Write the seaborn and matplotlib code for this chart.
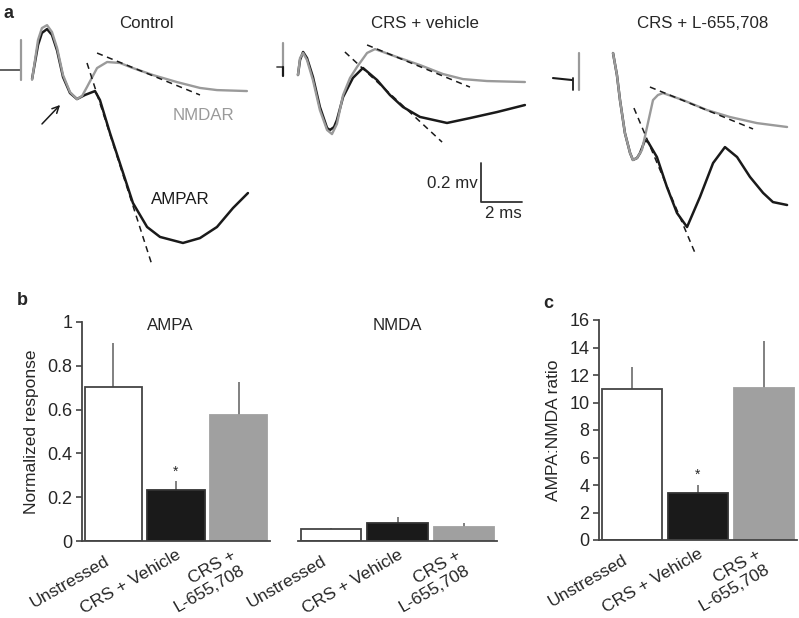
import numpy as np
import pandas as pd
import seaborn as sns
import matplotlib.pyplot as plt
import matplotlib.transforms as mtransforms

sns.set_theme(style='white')
plt.rcParams['font.family'] = ['Liberation Sans', 'DejaVu Sans']

W, H = 799, 618
PX_MS = 20.5   # pixels per ms in panel a
PX_MV = 195.0  # pixels per mV in panel a

BLACK = '#1a1a1a'
GRAY = '#9a9a9a'

# ---- panel a: field potential traces (time in ms from stimulus, voltage in mV) ----
ctrl_t_ampa = [0.54, 0.83, 1.02, 1.27, 1.51, 1.76, 2.05, 2.39, 2.73, 3.12, 3.61, 3.85, 4.34,
               4.98, 5.46, 6.15, 6.78, 7.90, 8.73, 9.56, 10.34, 11.07]
ctrl_v_ampa = [-0.046, 0.128, 0.19, 0.21, 0.18, 0.10, -0.036, -0.118, -0.149, -0.128, -0.108,
               -0.154, -0.323, -0.528, -0.682, -0.805, -0.856, -0.887, -0.862, -0.805, -0.708, -0.631]
ctrl_t_nmda = [0.54, 0.83, 1.02, 1.27, 1.51, 1.76, 2.05, 2.39, 2.73, 2.98, 3.22, 3.71, 4.20,
               4.83, 5.46, 6.44, 7.61, 8.73, 9.56, 11.02]
ctrl_v_nmda = [-0.05, 0.154, 0.215, 0.23, 0.195, 0.113, -0.026, -0.113, -0.149, -0.133, -0.087,
               0.010, 0.041, 0.036, 0.010, -0.026, -0.062, -0.092, -0.103, -0.108]

veh_t_ampa = [0.73, 0.83, 0.98, 1.17, 1.46, 1.80, 2.15, 2.29, 2.49, 2.63, 2.93, 3.41, 3.90,
              4.59, 5.22, 5.85, 6.68, 8.00, 9.12, 10.44, 11.80]
veh_v_ampa = [-0.041, 0.036, 0.077, 0.046, -0.051, -0.205, -0.313, -0.323, -0.308, -0.272,
              -0.154, -0.056, -0.005, -0.067, -0.144, -0.205, -0.256, -0.287, -0.262, -0.231, -0.195]
veh_t_nmda = [0.73, 0.83, 0.98, 1.17, 1.46, 1.80, 2.15, 2.39, 2.63, 2.93, 3.27, 3.61, 4.10,
              4.49, 5.56, 6.68, 7.80, 8.78, 9.95, 11.80]
veh_v_nmda = [-0.041, 0.046, 0.072, 0.036, -0.067, -0.221, -0.323, -0.344, -0.292, -0.144,
              -0.056, 0.0, 0.072, 0.092, 0.051, 0.010, -0.036, -0.062, -0.072, -0.077]

l655_t_ampa = [1.66, 1.85, 2.00, 2.24, 2.49, 2.63, 2.83, 2.98, 3.22, 3.37, 3.80, 4.29, 4.78,
               5.27, 5.90, 6.54, 7.12, 7.71, 8.34, 8.98, 9.46, 10.15]
l655_v_ampa = [0.138, 0.026, -0.103, -0.272, -0.374, -0.41, -0.40, -0.374, -0.308, -0.318,
               -0.395, -0.549, -0.682, -0.754, -0.60, -0.426, -0.344, -0.395, -0.497, -0.579,
               -0.626, -0.641]
l655_t_nmda = [1.66, 1.85, 2.00, 2.24, 2.49, 2.63, 2.83, 3.07, 3.32, 3.61, 3.85, 4.10, 5.07,
               6.24, 7.37, 8.68, 10.15]
l655_v_nmda = [0.138, 0.026, -0.103, -0.272, -0.374, -0.41, -0.40, -0.359, -0.241, -0.103,
               -0.077, -0.067, -0.103, -0.154, -0.190, -0.221, -0.241]

# fitted slopes (dashed): [t0, t1], [v0, v1]
ctrl_fit_nmda = ([3.71, 8.73], [0.087, -0.128])
ctrl_fit_ampa = ([3.22, 6.39], [0.036, -1.0])
veh_fit_nmda = ([4.10, 9.12], [0.113, -0.103])
veh_fit_ampa = ([3.02, 7.76], [0.077, -0.385])
l655_fit_nmda = ([3.46, 8.49], [-0.036, -0.251])
l655_fit_ampa = ([2.68, 5.66], [-0.144, -0.887])

# ---- panel b / c: bar data ----
groups = ['Unstressed', 'CRS + Vehicle', 'CRS +\nL-655,708']
ampa_mean = [0.702, 0.233, 0.574]
ampa_sem = [0.201, 0.041, 0.153]
nmda_mean = [0.053, 0.083, 0.062]
nmda_sem = [0.008, 0.028, 0.019]
ratio_mean = [10.96, 3.44, 11.08]
ratio_sem = [1.64, 0.56, 3.42]
bar_colors = ['white', BLACK, '#a0a0a0']
edge_colors = ['#444444', '#333333', '#a0a0a0']

fig = plt.figure(figsize=(W / 100, H / 100), dpi=100)


def px_axes(x0, y0, x1, y1):
    return fig.add_axes([x0 / W, 1 - y1 / H, (x1 - x0) / W, (y1 - y0) / H])


def trace_axes(x0, x1, stim_px, base_px):
    ax = px_axes(x0, 0, x1, 280)
    ax.set_xlim(-(stim_px - x0) / PX_MS, (x1 - stim_px) / PX_MS)
    ax.set_ylim(-(280 - base_px) / PX_MV, base_px / PX_MV)
    ax.axis('off')
    return ax


def draw_traces(ax, t_a, v_a, t_n, v_n, fit_a, fit_n):
    sns.lineplot(x=t_a, y=v_a, ax=ax, color=BLACK, lw=1.8, sort=False)
    sns.lineplot(x=t_n, y=v_n, ax=ax, color=GRAY, lw=1.7, sort=False)
    for ft, fv in (fit_a, fit_n):
        ax.plot(ft, fv, color=BLACK, lw=1.1, ls=(0, (4, 3)))


# Control
ax1 = trace_axes(0, 270, 21, 70)
ax1.plot([-1.02, -0.05], [0, 0], color='#555555', lw=1.3)
ax1.plot([0, 0], [0.154, -0.051], color=GRAY, lw=1.6)
draw_traces(ax1, ctrl_t_ampa, ctrl_v_ampa, ctrl_t_nmda, ctrl_v_nmda, ctrl_fit_ampa, ctrl_fit_nmda)
ax1.annotate('', xy=(2.0, -0.169), xytext=(0.93, -0.287),
             arrowprops=dict(arrowstyle='->', color=BLACK, lw=1.1))

# CRS + vehicle
ax2 = trace_axes(270, 530, 283, 67)
ax2.plot([-0.29, 0], [0, 0], color='#555555', lw=1.3)
ax2.plot([0, 0], [0.123, 0.0], color=GRAY, lw=1.6)
ax2.plot([0, 0], [0.0, -0.046], color=BLACK, lw=1.6)
draw_traces(ax2, veh_t_ampa, veh_v_ampa, veh_t_nmda, veh_v_nmda, veh_fit_ampa, veh_fit_nmda)
# scale bar: 0.2 mV, 2 ms
ax2.plot([9.66, 9.66, 11.66], [-0.492, -0.692, -0.692], color='#333333', lw=1.3)

# CRS + L-655,708
ax3 = trace_axes(530, 799, 579, 80)
ax3.plot([-1.27, -0.35], [0.01, 0.0], color=BLACK, lw=1.5)
ax3.plot([-0.29, -0.29], [0.01, -0.051], color=BLACK, lw=1.3)
ax3.plot([0, 0], [0.138, -0.051], color=GRAY, lw=1.6)
draw_traces(ax3, l655_t_ampa, l655_v_ampa, l655_t_nmda, l655_v_nmda, l655_fit_ampa, l655_fit_nmda)


def ftext(x, y, s, **kw):
    fig.text(x / W, 1 - y / H, s, **kw)


ftext(8, 13, 'a', fontsize=13, fontweight='bold', ha='center', va='center')
ftext(146, 24, 'Control', fontsize=12.2, ha='center', va='center')
ftext(425, 24, 'CRS + vehicle', fontsize=12.2, ha='center', va='center')
ftext(703, 24, 'CRS + L-655,708', fontsize=12.2, ha='center', va='center')
ftext(203, 115, 'NMDAR', fontsize=12.2, ha='center', va='center', color=GRAY)
ftext(180, 200, 'AMPAR', fontsize=12.2, ha='center', va='center', color=BLACK)
ftext(478, 184, '0.2 mv', fontsize=12.2, ha='right', va='center')
ftext(503, 213, '2 ms', fontsize=12.2, ha='center', va='center')

ftext(22, 301, 'b', fontsize=13, fontweight='bold', ha='center', va='center')
ftext(548, 303, 'c', fontsize=13, fontweight='bold', ha='center', va='center')

# rotated category labels sit centred below-left of each bar (offsets in px)
label_dx = [-44, -45, -34]
label_dy = [-41, -41, -40]


def bar_panel(ax, means, sems, ymax, show_y=True):
    df = pd.DataFrame({'group': groups, 'value': means})
    sns.barplot(data=df, x='group', y='value', hue='group', palette=bar_colors,
                width=0.91, ax=ax, legend=False, saturation=1)
    for patch, ec in zip(ax.patches, edge_colors):
        patch.set_edgecolor(ec)
        patch.set_linewidth(1.3)
    ax.errorbar(range(3), means, yerr=[np.zeros(3), sems], fmt='none',
                ecolor='#808080', elinewidth=1.4, capsize=0, zorder=0)
    ax.set_xlim(-0.5, 2.5)
    ax.set_ylim(0, ymax)
    ax.set_xlabel('')
    ax.set_ylabel('')
    ax.set_xticks(range(3))
    ax.set_xticklabels(groups, rotation=30, ha='center', va='center',
                       multialignment='right', rotation_mode='anchor', fontsize=12.6)
    ax.tick_params(axis='x', length=0, pad=0)
    for lbl, dx, dy in zip(ax.get_xticklabels(), label_dx, label_dy):
        lbl.set_transform(lbl.get_transform() +
                          mtransforms.ScaledTranslation(dx / 100, dy / 100,
                                                        fig.dpi_scale_trans))
    for s in ('top', 'right'):
        ax.spines[s].set_visible(False)
    ax.spines['bottom'].set_color('#444444')
    ax.spines['bottom'].set_linewidth(1.3)
    if show_y:
        ax.spines['left'].set_color('#444444')
        ax.spines['left'].set_linewidth(1.3)
        ax.tick_params(axis='y', direction='out', length=4, width=1.2,
                       color='#444444', labelsize=13, pad=3, left=True)
    else:
        ax.spines['left'].set_visible(False)
        ax.set_yticks([])


axb1 = px_axes(82, 322, 270, 541)
bar_panel(axb1, ampa_mean, ampa_sem, 1.0)
axb1.set_yticks([0, 0.2, 0.4, 0.6, 0.8, 1.0])
axb1.set_yticklabels(['0', '0.2', '0.4', '0.6', '0.8', '1'])
axb1.set_ylabel('Normalized response', fontsize=12.5, labelpad=6)
axb1.text(0.468, 0.986, 'AMPA', transform=axb1.transAxes, fontsize=12.2, ha='center', va='center')
axb1.text(1, 0.316, '*', fontsize=10, ha='center', va='center')

axb2 = px_axes(298, 322, 497, 541)
bar_panel(axb2, nmda_mean, nmda_sem, 1.0, show_y=False)
axb2.text(0.497, 0.986, 'NMDA', transform=axb2.transAxes, fontsize=12.2, ha='center', va='center')

axc = px_axes(599, 320, 797, 540)
bar_panel(axc, ratio_mean, ratio_sem, 16)
axc.set_yticks(range(0, 17, 2))
axc.set_ylabel('AMPA:NMDA ratio', fontsize=12.5, labelpad=6)
axc.text(1, 4.73, '*', fontsize=10, ha='center', va='center')

fig.savefig('out.png', dpi=100)
